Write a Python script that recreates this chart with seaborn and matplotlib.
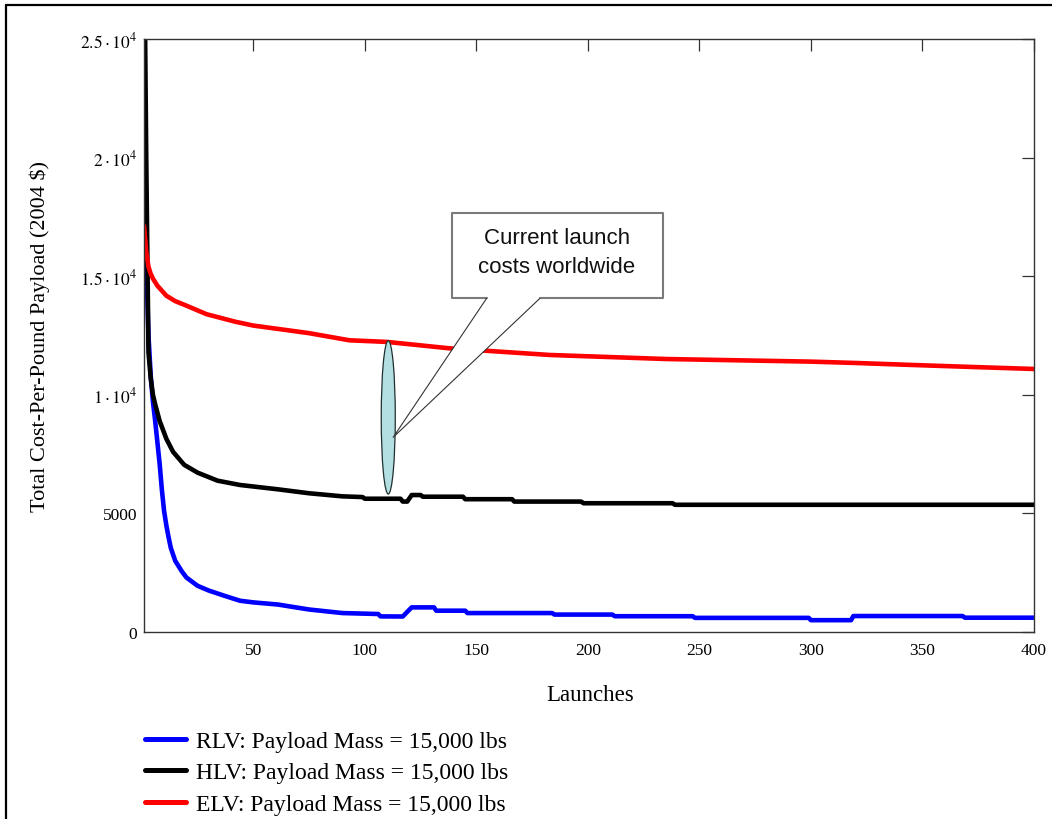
import matplotlib
matplotlib.use("Agg")
import pandas as pd
import matplotlib.pyplot as plt
from matplotlib.lines import Line2D
from matplotlib.patches import Ellipse, Polygon
import seaborn as sns

# values (launch number -> cost per pound, 2004 $)
rlv_launch = [1, 2, 3, 4, 5, 6, 7, 8, 9, 10, 11, 12, 13, 15, 18, 20, 25, 30, 37, 44,
              50, 61, 75, 90, 106, 107, 117, 119, 121, 131, 132, 145, 146, 184, 185,
              211, 212, 247, 248, 299, 300, 318, 319, 368, 369, 400]
rlv_cost = [20000, 15500, 12500, 10800, 9700, 8900, 8000, 7100, 6000, 5100, 4500, 4000,
            3550, 3000, 2550, 2300, 1950, 1750, 1530, 1320, 1250, 1160, 950, 800, 760,
            660, 655, 850, 1040, 1040, 900, 900, 800, 800, 736, 736, 667, 667, 597, 597,
            500, 500, 675, 675, 605, 605]

hlv_launch = [1, 2, 3, 4, 5, 6, 8, 11, 14, 19, 25, 34, 44, 61, 75, 90, 99, 100, 116,
              117, 119, 121, 125, 126, 144, 145, 166, 167, 197, 198, 238, 239, 400]
hlv_cost = [30000, 20000, 11800, 10700, 10000, 9600, 8900, 8150, 7600, 7050, 6720, 6380,
            6200, 6017, 5850, 5720, 5690, 5620, 5620, 5500, 5500, 5776, 5776, 5705, 5705,
            5600, 5600, 5500, 5500, 5430, 5430, 5365, 5365]

elv_launch = [1, 2, 3, 4, 5, 7, 11, 15, 20, 29, 42, 50, 61, 75, 93, 110, 138, 183, 235,
              300, 321, 346, 373, 400]
elv_cost = [17130, 16000, 15400, 15100, 14900, 14600, 14180, 13950, 13760, 13400, 13080,
            12920, 12780, 12600, 12300, 12230, 11960, 11680, 11510, 11400, 11340, 11257,
            11172, 11090]

series_labels = ["RLV: Payload Mass = 15,000 lbs",
                 "HLV: Payload Mass = 15,000 lbs",
                 "ELV: Payload Mass = 15,000 lbs"]
series_colors = ["#0000ff", "#000000", "#ff0000"]

x_ticks = [50, 100, 150, 200, 250, 300, 350, 400]
y_ticks = [0, 5000, 10000, 15000, 20000, 25000]
y_tick_labels = ["0", "5000", r"$1\cdot10^{4}$", r"$1.5\cdot10^{4}$",
                 r"$2\cdot10^{4}$", r"$2.5\cdot10^{4}$"]

callout_text = "Current launch\ncosts worldwide"

df = pd.concat([
    pd.DataFrame({"launch": x, "cost": y, "vehicle": lab})
    for x, y, lab in zip([rlv_launch, hlv_launch, elv_launch],
                         [rlv_cost, hlv_cost, elv_cost], series_labels)
], ignore_index=True)

sns.set_theme(style="white")
plt.rcParams["font.family"] = ["Liberation Serif", "DejaVu Serif"]
plt.rcParams["mathtext.fontset"] = "stix"
plt.rcParams["text.color"] = "black"

fig = plt.figure(figsize=(10.52, 8.2), dpi=100)
fig.patch.set_facecolor("white")
ax = fig.add_axes([0.1369, 0.2280, 0.8460, 0.7232])

sns.lineplot(data=df, x="launch", y="cost", hue="vehicle", hue_order=series_labels,
             palette=dict(zip(series_labels, series_colors)), estimator=None,
             sort=False, linewidth=3.3, legend=False, ax=ax)

ax.set_xlim(1, 400)
ax.set_ylim(0, 25000)
ax.set_xticks(x_ticks)
ax.set_yticks(y_ticks)
ax.set_yticklabels(y_tick_labels)
ax.tick_params(direction="in", length=8.5, width=0.9, color="#333333",
               top=True, right=True, labelsize=12.5, pad=5, labelcolor="black")
ax.tick_params(axis="x", pad=7)
for s in ax.spines.values():
    s.set_color("#333333")
    s.set_linewidth(1.0)

ax.set_xlabel("Launches", fontsize=16.5, color="black")
ax.xaxis.set_label_coords(0.501, -0.1046)
ax.xaxis.label.set_verticalalignment("center")
ax.set_ylabel("Total Cost-Per-Pound Payload (2004 $)", fontsize=16, color="black")
ax.yaxis.set_label_coords(-0.117, 0.5)
ax.yaxis.label.set_verticalalignment("center")

# callout: ellipse around the current-cost band plus speech box
ax.add_patch(Ellipse((110.5, 9050), 6.3, 6463, facecolor="#b3dfe3",
                     edgecolor="#1f2f2f", linewidth=0.9, zorder=5))
box_l, box_r, box_b, box_t = 138.9, 233.7, 14069, 17665
base_a, base_b, tip = 154.6, 178.5, (112.7, 8209)
ax.add_patch(Polygon([(base_a, box_b), tip, (base_b, box_b), (box_r, box_b),
                      (box_r, box_t), (box_l, box_t), (box_l, box_b)],
                     closed=True, facecolor="white", edgecolor="none", zorder=6))
ax.add_line(Line2D([base_a, box_l, box_l, box_r, box_r, base_b],
                   [box_b, box_b, box_t, box_t, box_b, box_b],
                   color="#7a7a7a", linewidth=1.5, zorder=7))
ax.add_line(Line2D([base_a, tip[0], base_b], [box_b, tip[1], box_b],
                   color="#333333", linewidth=0.8, zorder=7))
ax.text(186, 16020, callout_text, ha="center", va="center", fontsize=16,
        color="#111111", family=["Liberation Sans", "DejaVu Sans"],
        linespacing=1.45, zorder=8)

handles = [Line2D([], [], color=c, linewidth=3.6) for c in series_colors]
ax.legend(handles, series_labels, loc="upper left", bbox_to_anchor=(0.001, -0.166),
          frameon=False, fontsize=17, handlelength=1.75, handletextpad=0.4,
          labelspacing=0.42, borderpad=0, borderaxespad=0)

# screenshot frame on the top and left edges
fig.add_artist(Line2D([6 / 1052, 1], [1 - 6 / 820, 1 - 6 / 820],
                      transform=fig.transFigure, color="black", linewidth=1.6))
fig.add_artist(Line2D([6 / 1052, 6 / 1052], [0, 1 - 6 / 820],
                      transform=fig.transFigure, color="black", linewidth=1.6))

fig.savefig("out.png", dpi=100)
plt.close(fig)
